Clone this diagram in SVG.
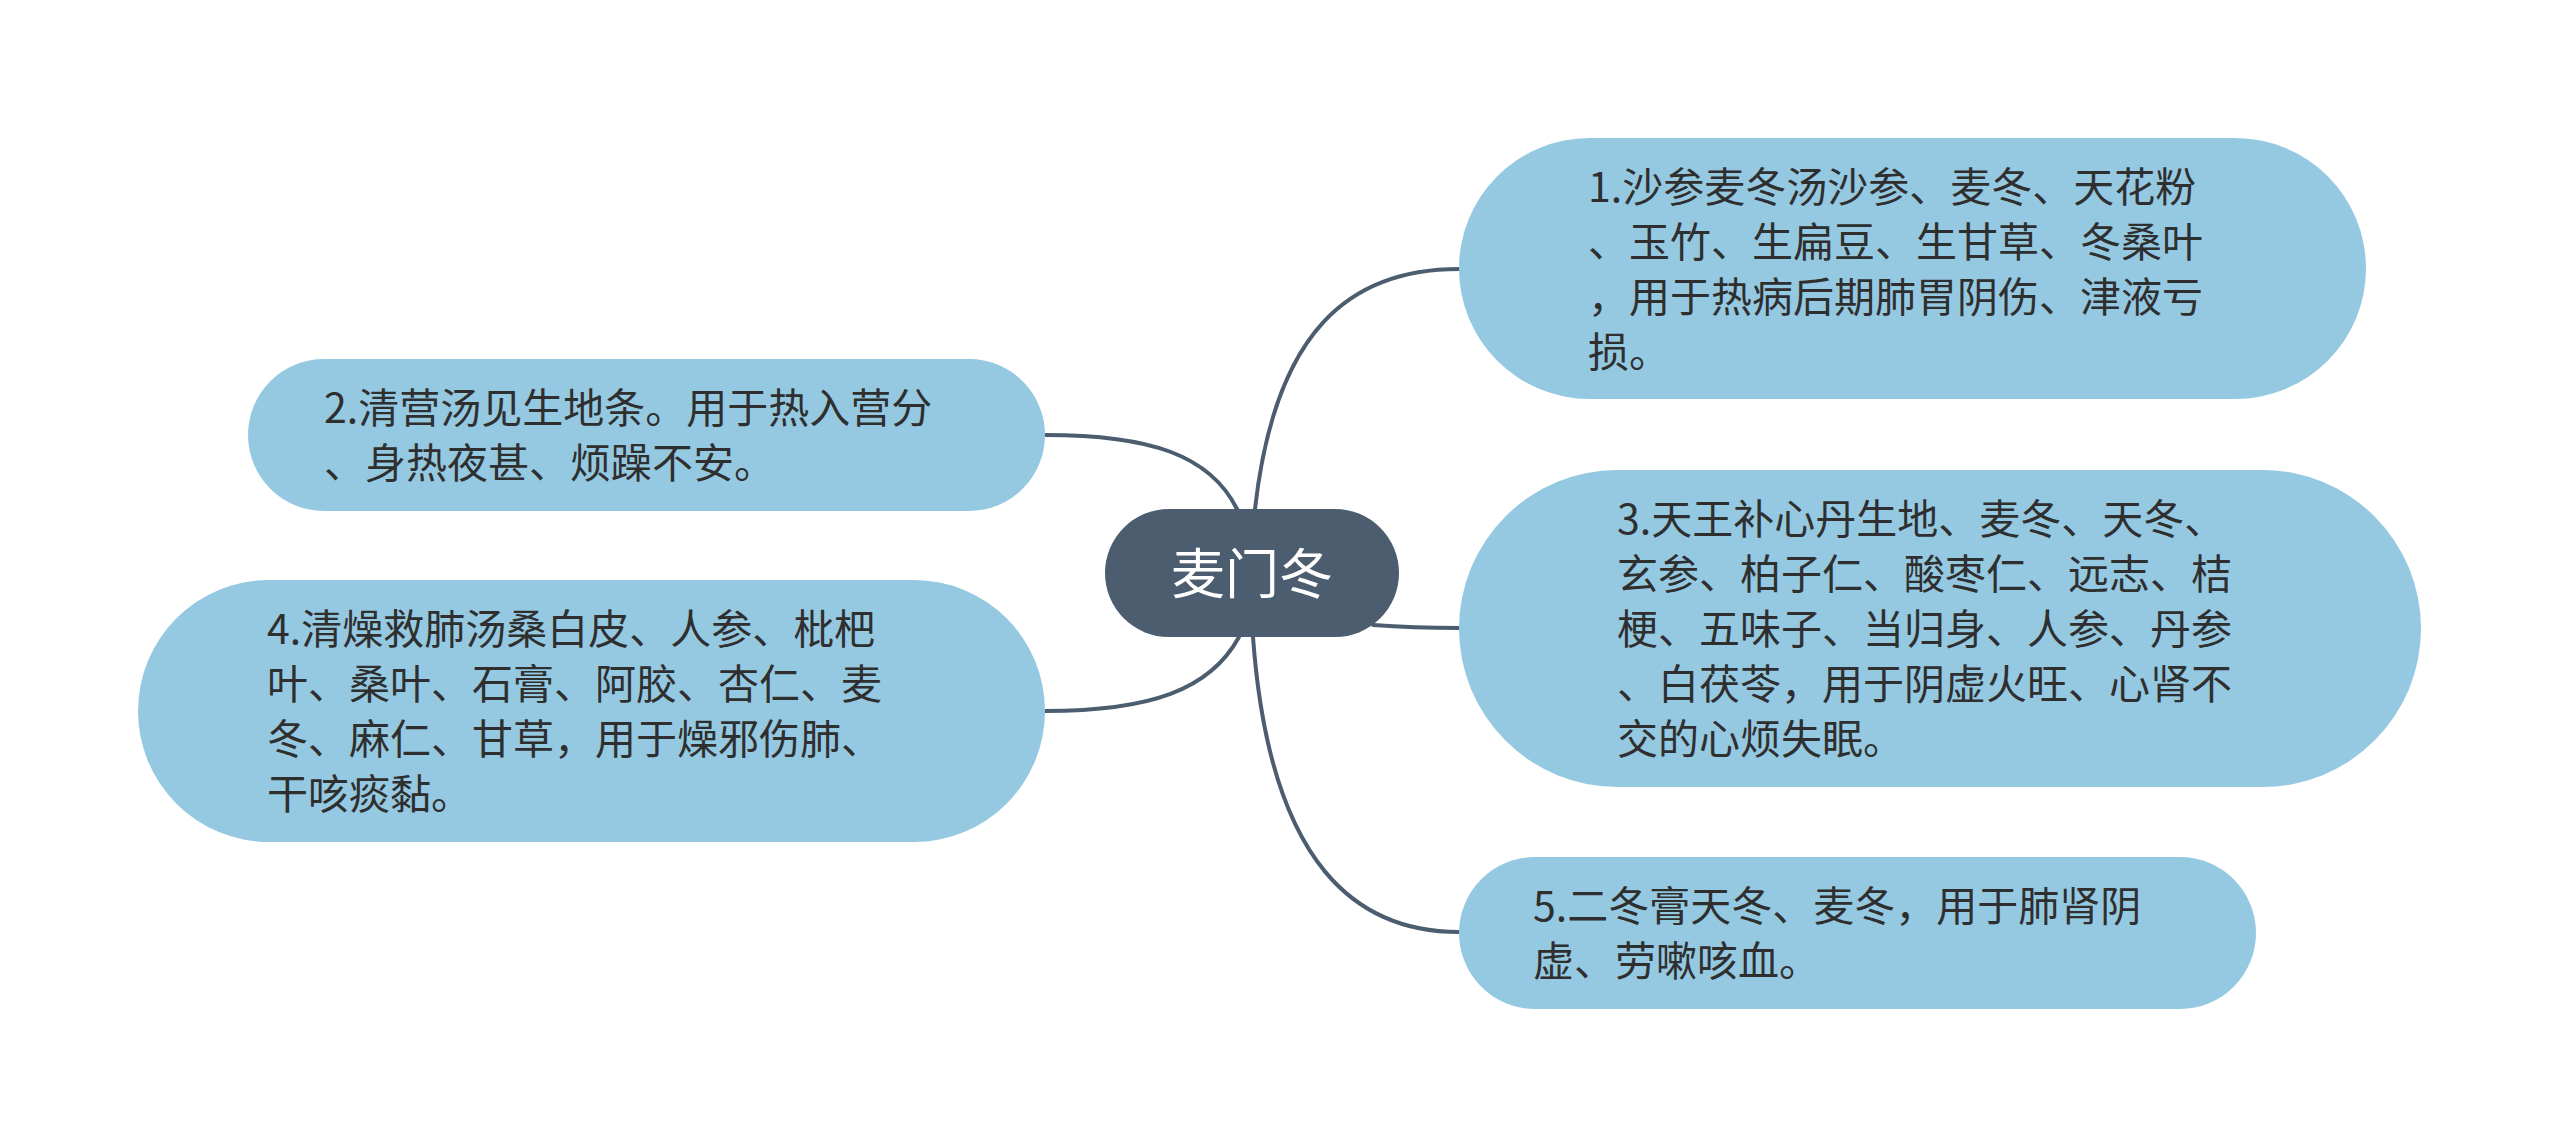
<svg xmlns="http://www.w3.org/2000/svg" width="2560" height="1147" viewBox="0 0 2560 1147">
<style>
.bg{fill:#ffffff}
.sub{fill:#95c9e2}
.root{fill:#4b5d6e}
.t{font-family:"Noto Sans CJK SC","Noto Sans",sans-serif;font-size:41px;fill:#2f2f2f}
.rt{font-family:"Noto Sans CJK SC","Noto Sans",sans-serif;font-size:54px;fill:#ffffff;text-anchor:middle}
.c{fill:none;stroke:#4b5d6e;stroke-width:4;stroke-linecap:round}
</style>
<rect class="bg" x="0" y="0" width="2560" height="1147"/>
<g id="connectors">
<path class="c" d="M1255,509 C1275,330 1350,269 1459,269"/>
<path class="c" d="M1237,509 C1210,455 1150,435 1045,435"/>
<path class="c" d="M1373,625 C1400,627 1430,628 1459,628"/>
<path class="c" d="M1239,637 C1210,690 1150,711 1045,711"/>
<path class="c" d="M1253,637 C1270,870 1360,932 1459,932"/>
</g>
<g id="root">
<rect class="root" x="1105" y="509" width="294" height="128" rx="64"/>
<text class="rt" x="1252" y="594">麦门冬</text>
</g>
<g id="node1">
<rect class="sub" x="1459" y="138" width="907" height="261" rx="130.5"/>
<text class="t"><tspan x="1588" y="202">1.沙参麦冬汤沙参、麦冬、天花粉</tspan><tspan x="1588" y="257">、玉竹、生扁豆、生甘草、冬桑叶</tspan><tspan x="1588" y="312">，用于热病后期肺胃阴伤、津液亏</tspan><tspan x="1588" y="367">损。</tspan></text>
</g>
<g id="node2">
<rect class="sub" x="248" y="359" width="797" height="152" rx="76"/>
<text class="t"><tspan x="324" y="423">2.清营汤见生地条。用于热入营分</tspan><tspan x="324" y="478">、身热夜甚、烦躁不安。</tspan></text>
</g>
<g id="node3">
<rect class="sub" x="1459" y="470" width="962" height="317" rx="158.5"/>
<text class="t"><tspan x="1617" y="534">3.天王补心丹生地、麦冬、天冬、</tspan><tspan x="1617" y="589">玄参、柏子仁、酸枣仁、远志、桔</tspan><tspan x="1617" y="644">梗、五味子、当归身、人参、丹参</tspan><tspan x="1617" y="699">、白茯苓，用于阴虚火旺、心肾不</tspan><tspan x="1617" y="754">交的心烦失眠。</tspan></text>
</g>
<g id="node4">
<rect class="sub" x="138" y="580" width="907" height="262" rx="131"/>
<text class="t"><tspan x="267" y="644">4.清燥救肺汤桑白皮、人参、枇杷</tspan><tspan x="267" y="699">叶、桑叶、石膏、阿胶、杏仁、麦</tspan><tspan x="267" y="754">冬、麻仁、甘草，用于燥邪伤肺、</tspan><tspan x="267" y="809">干咳痰黏。</tspan></text>
</g>
<g id="node5">
<rect class="sub" x="1459" y="857" width="797" height="152" rx="76"/>
<text class="t"><tspan x="1533" y="921">5.二冬膏天冬、麦冬，用于肺肾阴</tspan><tspan x="1533" y="976">虚、劳嗽咳血。</tspan></text>
</g>
</svg>
